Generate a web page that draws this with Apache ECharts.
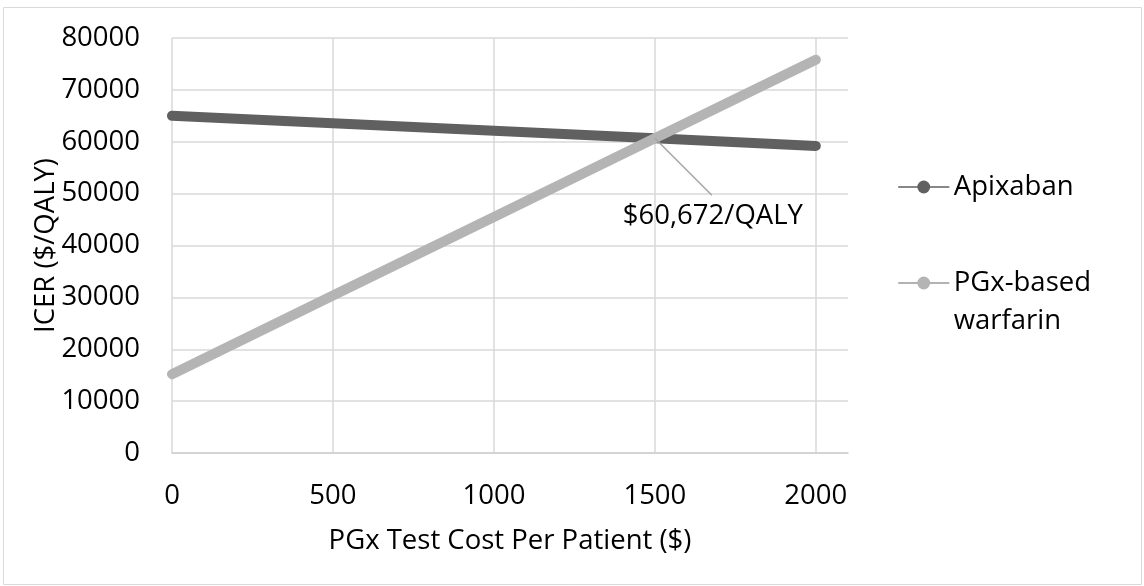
<!DOCTYPE html>
<html>
<head>
<meta charset="utf-8">
<script src="https://cdn.jsdelivr.net/npm/echarts@6/dist/echarts.min.js"></script>
<style>
html,body{margin:0;padding:0;background:#fff;}
#chart{width:1144px;height:586px;}
</style>
</head>
<body>
<div id="chart"></div>
<script>
// Data
const testCost = [0, 500, 1000, 1500, 2000];
const apixaban = [65000, 63550, 62100, 60672, 59200];
const pgxWarfarin = [15200, 30350, 45500, 60672, 75800];
const crossPoint = [1500, 60672];
const leaderEnd = [1677, 49700];
const crossLabel = '$60,672/QALY';
const seriesNames = ['Apixaban', 'PGx-based warfarin'];

const FONT = '"Open Sans", "Liberation Sans", sans-serif';
const chart = echarts.init(document.getElementById('chart'), null, {renderer: 'canvas'});

const pairs = (xs, ys) => xs.map((x, i) => [x, ys[i]]);

chart.setOption({
  backgroundColor: '#ffffff',
  animation: false,
  textStyle: {fontFamily: FONT},
  graphic: [{
    type: 'rect',
    shape: {x: 3.5, y: 7.5, width: 1138, height: 577},
    style: {fill: 'none', stroke: '#d9d9d9', lineWidth: 1},
    silent: true
  }],
  grid: {left: 172, right: 296, top: 38, bottom: 133, containLabel: false},
  xAxis: {
    type: 'value',
    min: 0, max: 2100, interval: 500,
    name: 'PGx Test Cost Per Patient ($)',
    nameLocation: 'middle',
    nameMoveOverlap: false,
    nameGap: 74,
    nameTextStyle: {fontSize: 27.5, color: '#000', fontFamily: FONT},
    axisLine: {show: true, lineStyle: {color: '#d0d0d0', width: 1.5}},
    axisTick: {show: false},
    axisLabel: {fontSize: 27.5, color: '#000', margin: 29, showMaxLabel: false, fontFamily: FONT,
      formatter: v => String(v)},
    splitLine: {show: true, showMinLine: true, showMaxLine: false, lineStyle: {color: '#d9d9d9', width: 1.5}}
  },
  yAxis: {
    type: 'value',
    min: 0, max: 80000, interval: 10000,
    name: 'ICER ($/QALY)',
    nameLocation: 'middle',
    nameMoveOverlap: false,
    nameGap: 112,
    nameTextStyle: {fontSize: 27.5, color: '#000', fontFamily: FONT},
    axisLine: {show: false},
    axisTick: {show: false},
    axisLabel: {fontSize: 27.5, color: '#000', margin: 32, fontFamily: FONT,
      formatter: v => String(v)},
    splitLine: {show: true, lineStyle: {color: '#d9d9d9', width: 1.5}}
  },
  legend: [{
    data: [seriesNames[0]],
    left: 898, top: 168,
    padding: 0,
    orient: 'vertical',
    itemWidth: 50, itemHeight: 16,
    itemGap: 0,
    lineStyle: {width: 1.5},
    textStyle: {fontSize: 27.5, color: '#000', lineHeight: 38, fontFamily: FONT},
    formatter: n => n
  }, {
    data: [{name: seriesNames[1], lineStyle: {color: '#999999', width: 1.5}}],
    left: 898, top: 226,
    padding: 0,
    orient: 'vertical',
    itemWidth: 50, itemHeight: 16,
    itemGap: 0,
    lineStyle: {width: 1.5},
    textStyle: {fontSize: 27.5, color: '#000', lineHeight: 38, fontFamily: FONT},
    formatter: () => '\u00a0\nPGx-based\nwarfarin'
  }],
  series: [{
    name: seriesNames[0],
    type: 'line',
    data: pairs(testCost, apixaban),
    symbol: 'circle', symbolSize: 10, showSymbol: false,
    itemStyle: {color: '#606060'},
    lineStyle: {color: '#606060', width: 10, cap: 'round', join: 'round'},
    z: 2
  }, {
    name: seriesNames[1],
    type: 'line',
    data: pairs(testCost, pgxWarfarin),
    symbol: 'circle', symbolSize: 10, showSymbol: false,
    itemStyle: {color: '#b4b4b4'},
    lineStyle: {color: '#b4b4b4', width: 10, cap: 'round', join: 'round'},
    z: 3
  }, {
    name: 'annotation',
    type: 'scatter',
    data: [crossPoint],
    symbolSize: 0,
    itemStyle: {color: 'transparent', opacity: 1},
    label: {
      show: true,
      position: 'inside',
      formatter: crossLabel,
      fontSize: 27.5, color: '#000', opacity: 1, fontFamily: FONT
    },
    labelLayout: {dx: 58, dy: 78},
    markLine: {
      silent: true,
      symbol: ['none', 'none'],
      label: {show: false},
      lineStyle: {color: '#a6a6a6', width: 1.5, type: 'solid'},
      data: [[{coord: crossPoint}, {coord: leaderEnd}]]
    },
    z: 5,
    silent: true
  }]
});
</script>
</body>
</html>
